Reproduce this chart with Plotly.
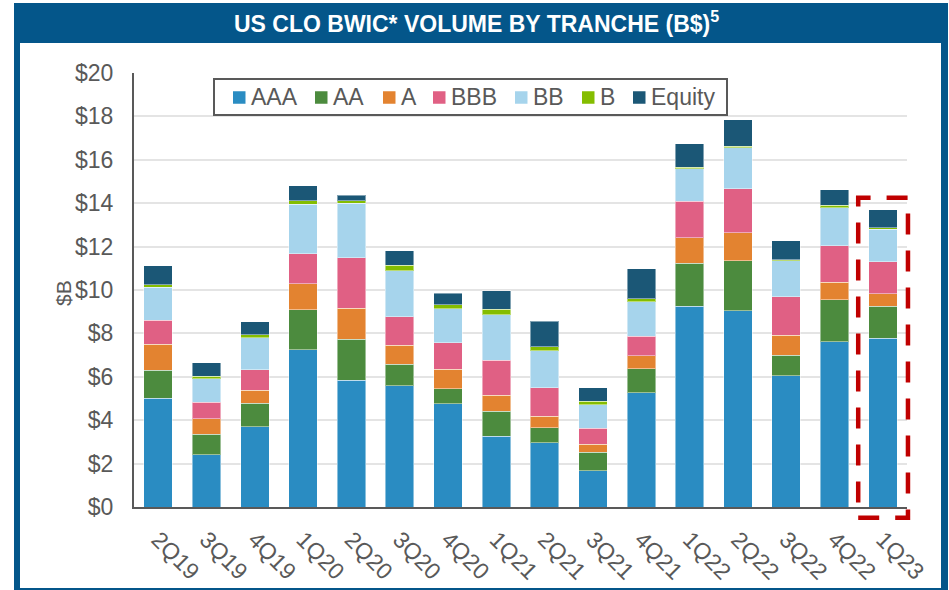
import plotly.graph_objects as go

quarters = ["2Q19", "3Q19", "4Q19", "1Q20", "2Q20", "3Q20", "4Q20", "1Q21",
            "2Q21", "3Q21", "4Q21", "1Q22", "2Q22", "3Q22", "4Q22", "1Q23"]
aaa = [5.02, 2.40, 3.70, 7.25, 5.85, 5.59, 4.75, 3.27, 2.95, 1.66, 5.27, 9.24, 9.05, 6.06, 7.62, 7.77]
aa = [1.28, 0.96, 1.09, 1.84, 1.89, 1.00, 0.69, 1.15, 0.70, 0.86, 1.09, 1.99, 2.30, 0.93, 1.92, 1.47]
a = [1.21, 0.70, 0.60, 1.20, 1.41, 0.86, 0.90, 0.74, 0.54, 0.38, 0.60, 1.18, 1.28, 0.92, 0.81, 0.58]
bbb = [1.09, 0.76, 0.94, 1.38, 2.34, 1.32, 1.23, 1.60, 1.31, 0.72, 0.92, 1.67, 2.04, 1.78, 1.69, 1.48]
bb = [1.52, 1.09, 1.46, 2.29, 2.50, 2.12, 1.57, 2.10, 1.70, 1.09, 1.57, 1.50, 1.89, 1.66, 1.76, 1.51]
b = [0.12, 0.11, 0.15, 0.16, 0.13, 0.26, 0.17, 0.26, 0.19, 0.16, 0.15, 0.07, 0.06, 0.05, 0.10, 0.06]
equity = [0.88, 0.62, 0.59, 0.69, 0.24, 0.65, 0.55, 0.85, 1.18, 0.63, 1.38, 1.08, 1.23, 0.87, 0.71, 0.83]

tick_vals = [0, 2, 4, 6, 8, 10, 12, 14, 16, 18, 20]
tick_text = ["$" + str(v) for v in tick_vals]

series_names = ["AAA", "AA", "A", "BBB", "BB", "B", "Equity"]
series_values = [aaa, aa, a, bbb, bb, b, equity]
series_colors = ["#2A8CC2", "#4C8B3E", "#E38330", "#E06084", "#A6D4EC", "#84BD00", "#1B5776"]

W, H = 949, 590
ML, MR, MT, MB = 134, 42, 73, 83
PW = W - ML - MR
PH = H - MT - MB


def px_x(p):
    return (p - ML) / PW


def px_y(p):
    return (H - MB - p) / PH


fig = go.Figure()
for name, vals, col in zip(series_names, series_values, series_colors):
    fig.add_trace(go.Bar(
        x=quarters, y=vals, name=name, showlegend=False,
        marker=dict(color=col, line=dict(color="rgba(255,255,255,0.45)", width=1)),
    ))

GREY = "#595959"
BLUE = "#04568A"

shapes = [
    dict(type="rect", xref="paper", yref="paper", x0=px_x(14), x1=px_x(948),
         y0=px_y(590), y1=px_y(3), fillcolor=BLUE, line=dict(width=0), layer="below"),
    dict(type="rect", xref="paper", yref="paper", x0=px_x(20), x1=px_x(941),
         y0=px_y(588), y1=px_y(43), fillcolor="white", line=dict(width=0), layer="below"),
]

# highlight box around last quarter
n = len(quarters)
idx = n - 1
shapes.append(dict(
    type="rect", xref="paper", yref="paper",
    x0=(idx - 0.51 + 0.5) / n, x1=(idx + 0.52 + 0.5) / n,
    y0=-0.49 / 20, y1=14.25 / 20,
    line=dict(color="#C00000", width=4.5, dash="21px,16px"), fillcolor="rgba(0,0,0,0)",
    layer="above",
))

# legend box (manual, to match the compact spacing of the original)
LEG_X0, LEG_X1, LEG_Y0, LEG_Y1 = 214, 727, 79, 115
legend_marker_px = [233, 315, 383, 433, 515, 582, 633]
LEG_MID = (LEG_Y0 + LEG_Y1) / 2 + 0.5
MK = 12.5
shapes.append(dict(type="rect", xref="paper", yref="paper",
                   x0=px_x(LEG_X0), x1=px_x(LEG_X1), y0=px_y(LEG_Y1), y1=px_y(LEG_Y0),
                   fillcolor="white", line=dict(color=GREY, width=2), layer="above"))
annotations = []
for name, col, mx in zip(series_names, series_colors, legend_marker_px):
    shapes.append(dict(type="rect", xref="paper", yref="paper",
                       x0=px_x(mx), x1=px_x(mx + MK),
                       y0=px_y(LEG_MID + MK / 2), y1=px_y(LEG_MID - MK / 2),
                       fillcolor=col, line=dict(width=0), layer="above"))
    annotations.append(dict(text=name, xref="paper", yref="paper",
                            x=px_x(mx + MK + 3), y=px_y(LEG_MID),
                            xanchor="left", yanchor="middle", showarrow=False,
                            font=dict(size=23, color=GREY)))

annotations += [
    dict(text="<b>US CLO BWIC* VOLUME BY TRANCHE (B$)<sup>5</sup></b>",
         xref="paper", yref="paper", x=px_x(476), y=px_y(22),
         xanchor="center", yanchor="middle", showarrow=False,
         font=dict(family="Liberation Sans, Arial", size=23, color="white")),
    dict(text="$B", xref="paper", yref="paper", x=px_x(63), y=px_y(293),
         xanchor="center", yanchor="middle", textangle=-90, showarrow=False,
         font=dict(size=21, color=GREY)),
]

fig.update_layout(
    width=W, height=H,
    margin=dict(l=ML, r=MR, t=MT, b=MB, autoexpand=False),
    barmode="stack", bargap=0.41,
    paper_bgcolor="white", plot_bgcolor="rgba(0,0,0,0)",
    font=dict(family="Liberation Sans, Arial, sans-serif", color=GREY),
    showlegend=False,
    shapes=shapes,
    annotations=annotations,
)

fig.update_yaxes(
    range=[0, 20], tickvals=tick_vals, ticktext=tick_text,
    showgrid=True, gridcolor="#E4E4E4", gridwidth=2,
    showline=True, linecolor=GREY, linewidth=2,
    ticks="", ticklabelstandoff=14,
    tickfont=dict(size=23, color=GREY), zeroline=False,
)
fig.update_xaxes(
    showline=True, linecolor=GREY, linewidth=2,
    tickangle=45, ticks="", ticklabelstandoff=8,
    tickfont=dict(size=23, color=GREY),
)

fig.write_html("out.html", config={"displayModeBar": False},
               post_script="document.body.style.margin='0px';")
